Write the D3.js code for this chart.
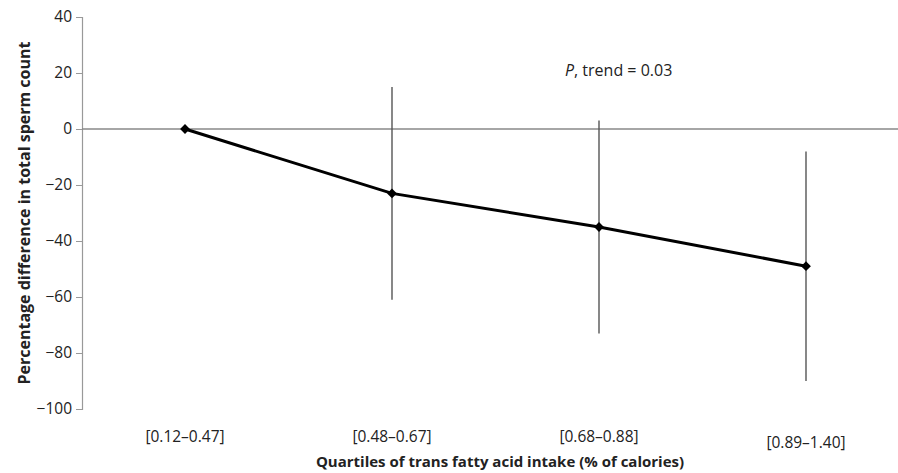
<!DOCTYPE html>
<html>
<head>
<meta charset="utf-8">
<script src="https://cdn.jsdelivr.net/npm/d3@7"></script>
<style>
  body { margin: 0; background: #fff; }
  text { font-family: "Open Sans", "Liberation Sans", sans-serif; }
</style>
</head>
<body>
<div id="chart"></div>
<script>
const categories = ["[0.12–0.47]", "[0.48–0.67]", "[0.68–0.88]", "[0.89–1.40]"];
const pctDiff = [0, -23, -35, -49];
const ciLower = [0, -61, -73, -90];
const ciUpper = [0, 15, 3, -8];
const yTicks = [40, 20, 0, -20, -40, -60, -80, -100];

const width = 898, height = 473;
const margin = { top: 17, right: 0, bottom: 64, left: 82 };

const svg = d3.select("#chart").append("svg")
  .attr("width", width)
  .attr("height", height);

const x = d3.scalePoint()
  .domain(categories)
  .range([185, 806]);

const y = d3.scaleLinear()
  .domain([-100, 40])
  .range([height - margin.bottom, margin.top]);

const data = categories.map((c, i) => ({
  cat: c, value: pctDiff[i], lo: ciLower[i], hi: ciUpper[i]
}));

// y axis
const yAxis = svg.append("g")
  .attr("transform", "translate(" + margin.left + ",0)")
  .call(d3.axisLeft(y).tickValues(yTicks).tickSize(6).tickPadding(4)
    .tickFormat(d => d < 0 ? "\u2212" + Math.abs(d) : d));
yAxis.select(".domain").attr("stroke", "#999").attr("stroke-width", 1.2);
yAxis.selectAll(".tick line").attr("stroke", "#999");
yAxis.selectAll(".tick text")
  .attr("fill", "#222")
  .style("font-size", "15.5px");

// zero line
svg.append("line")
  .attr("x1", margin.left).attr("x2", width)
  .attr("y1", y(0)).attr("y2", y(0))
  .attr("stroke", "#888").attr("stroke-width", 1.3);

// x category labels (last one sits a bit lower in the original)
svg.append("g")
  .selectAll("text")
  .data(categories)
  .enter()
  .append("text")
  .attr("x", d => x(d))
  .attr("y", (d, i) => i === 3 ? 448 : 442)
  .attr("text-anchor", "middle")
  .attr("fill", "#222")
  .style("font-size", "15.5px")
  .text(d => d);

// error bars
svg.selectAll(".err")
  .data(data.filter(d => d.hi !== d.lo))
  .enter()
  .append("line")
  .attr("class", "err")
  .attr("x1", d => x(d.cat)).attr("x2", d => x(d.cat))
  .attr("y1", d => y(d.hi)).attr("y2", d => y(d.lo))
  .attr("stroke", "#555").attr("stroke-width", 1.4);

// trend line
const line = d3.line()
  .x(d => x(d.cat))
  .y(d => y(d.value));

svg.append("path")
  .datum(data)
  .attr("fill", "none")
  .attr("stroke", "#000")
  .attr("stroke-width", 3)
  .attr("d", line);

svg.selectAll(".pt")
  .data(data)
  .enter()
  .append("path")
  .attr("class", "pt")
  .attr("transform", d => "translate(" + x(d.cat) + "," + y(d.value) + ") rotate(45)")
  .attr("d", d3.symbol().type(d3.symbolSquare).size(48))
  .attr("fill", "#000");

// annotation
const ann = svg.append("text")
  .attr("x", 565).attr("y", 76)
  .attr("fill", "#222")
  .style("font-size", "16px");
ann.append("tspan").style("font-style", "italic").text("P");
ann.append("tspan").text(", trend = 0.03");

// axis titles
svg.append("text")
  .attr("x", 500)
  .attr("y", 467)
  .attr("text-anchor", "middle")
  .attr("fill", "#222")
  .style("font-size", "15px")
  .style("font-weight", "bold")
  .text("Quartiles of trans fatty acid intake (% of calories)");

svg.append("text")
  .attr("transform", "translate(30," + (y(40) + y(-100)) / 2 + ") rotate(-90)")
  .attr("text-anchor", "middle")
  .attr("fill", "#222")
  .style("font-size", "16px")
  .style("font-weight", "bold")
  .text("Percentage difference in total sperm count");
</script>
</body>
</html>
